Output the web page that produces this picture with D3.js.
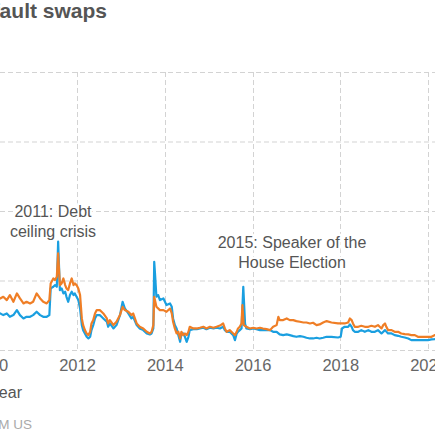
<!DOCTYPE html>
<html>
<head>
<meta charset="utf-8">
<script src="https://cdn.jsdelivr.net/npm/d3@7"></script>
<style>
  body { margin: 0; background: #fff; }
  svg { display: block; font-family: "Liberation Sans", Arial, Helvetica, sans-serif; }
</style>
</head>
<body>
<div id="chart"></div>
<script>
// Values (basis points)
const fiveYearDates = [2010.18, 2010.25, 2010.32, 2010.40, 2010.47, 2010.55, 2010.63, 2010.70, 2010.78, 2010.85, 2010.93,
  2011.00, 2011.08, 2011.16, 2011.23, 2011.31, 2011.37, 2011.40, 2011.46, 2011.50, 2011.54, 2011.57, 2011.61, 2011.65,
  2011.69, 2011.73, 2011.76, 2011.80, 2011.84, 2011.88, 2011.92, 2011.95, 2011.99, 2012.03, 2012.07, 2012.11, 2012.14,
  2012.18, 2012.22, 2012.26, 2012.30, 2012.33, 2012.37, 2012.41, 2012.45, 2012.52, 2012.56, 2012.60, 2012.68, 2012.71,
  2012.75, 2012.83, 2012.90, 2012.98, 2013.04, 2013.09, 2013.17, 2013.24, 2013.28, 2013.36, 2013.43, 2013.51, 2013.59,
  2013.66, 2013.70, 2013.74, 2013.76, 2013.81, 2013.89, 2013.97, 2014.04, 2014.12, 2014.16, 2014.19, 2014.23, 2014.27,
  2014.31, 2014.35, 2014.38, 2014.42, 2014.46, 2014.50, 2014.54, 2014.57, 2014.65, 2014.73, 2014.80, 2014.88, 2014.95,
  2015.03, 2015.11, 2015.18, 2015.26, 2015.33, 2015.37, 2015.41, 2015.48, 2015.56, 2015.60, 2015.64, 2015.67, 2015.71,
  2015.75, 2015.77, 2015.80, 2015.86, 2015.94, 2016.02, 2016.09, 2016.17, 2016.24, 2016.32, 2016.40, 2016.47, 2016.55,
  2016.59, 2016.62, 2016.70, 2016.78, 2016.85, 2016.93, 2017.00, 2017.08, 2017.16, 2017.23, 2017.31, 2017.38, 2017.46,
  2017.53, 2017.61, 2017.69, 2017.80, 2017.95, 2018.10, 2018.18, 2018.22, 2018.26, 2018.29, 2018.33, 2018.41, 2018.48,
  2018.56, 2018.64, 2018.71, 2018.79, 2018.86, 2018.90, 2018.94, 2018.98, 2019.02, 2019.05, 2019.09, 2019.17, 2019.24,
  2019.32, 2019.39, 2019.47, 2019.55, 2019.62, 2019.70, 2019.77, 2019.85, 2019.93, 2020.00, 2020.08, 2020.15, 2020.20];
const fiveYearValues = [36.5, 37.1, 38.3, 35.9, 39.5, 34.7, 40.7, 37.1, 33.5, 34.7, 33.5,
  34.7, 40.7, 37.1, 34.7, 33.5, 35.9, 47.9, 51.5, 50.3, 52.7, 69.5, 46.7, 47.9,
  51.5, 46.7, 44.3, 43.1, 47.9, 51.5, 46.7, 47.9, 46.7, 44.3, 39.5, 22.7, 17.9,
  14.3, 11.9, 10.7, 13.1, 19.1, 21.5, 26.3, 28.7, 28.7, 27.5, 26.3, 22.7, 19.1,
  21.5, 17.9, 20.3, 25.1, 31.1, 28.7, 27.5, 25.1, 26.3, 19.1, 16.7, 15.5, 13.1,
  11.9, 13.1, 17.9, 38.3, 31.1, 28.7, 28.7, 27.5, 29.9, 26.3, 20.3, 15.5, 11.9,
  13.1, 8.3, 13.1, 10.7, 11.9, 10.7, 13.1, 16.7, 15.5, 15.5, 16.0, 16.7, 15.5,
  16.7, 16.0, 16.7, 17.6, 19.1, 15.5, 13.1, 14.3, 11.9, 10.7, 13.1, 15.5, 16.7,
  19.1, 32.3, 17.9, 16.7, 15.5, 16.0, 15.5, 16.0, 15.5, 15.0, 14.3, 16.7, 17.9,
  23.9, 21.5, 21.5, 22.7, 21.5, 21.5, 20.8, 20.3, 19.8, 19.8, 19.1, 19.6, 17.9,
  18.4, 19.8, 20.8, 19.8, 19.1, 19.1, 19.8, 22.7, 21.5, 19.1, 16.7, 16.7, 17.4,
  16.7, 16.7, 17.4, 16.7, 17.9, 16.7, 15.5, 17.9, 19.1, 16.7, 14.3, 14.3, 13.1,
  13.1, 11.9, 11.4, 11.2, 10.7, 10.7, 9.5, 9.5, 9.5, 9.5, 9.5, 10.7, 10.9];

const oneYearDates = [2010.18, 2010.25, 2010.32, 2010.40, 2010.47, 2010.55, 2010.63, 2010.70, 2010.78, 2010.85, 2010.93,
  2011.00, 2011.08, 2011.16, 2011.23, 2011.31, 2011.37, 2011.40, 2011.46, 2011.50, 2011.54, 2011.57, 2011.61, 2011.65,
  2011.69, 2011.73, 2011.76, 2011.80, 2011.84, 2011.88, 2011.92, 2011.95, 2011.99, 2012.03, 2012.07, 2012.11, 2012.14,
  2012.18, 2012.22, 2012.26, 2012.30, 2012.33, 2012.37, 2012.41, 2012.45, 2012.52, 2012.56, 2012.60, 2012.68, 2012.71,
  2012.75, 2012.83, 2012.90, 2012.98, 2013.04, 2013.09, 2013.17, 2013.24, 2013.28, 2013.36, 2013.43, 2013.51, 2013.59,
  2013.66, 2013.70, 2013.74, 2013.76, 2013.78, 2013.81, 2013.85, 2013.89, 2013.97, 2014.04, 2014.12, 2014.16, 2014.19,
  2014.23, 2014.27, 2014.31, 2014.35, 2014.38, 2014.42, 2014.46, 2014.50, 2014.54, 2014.57, 2014.65, 2014.73, 2014.80,
  2014.88, 2014.95, 2015.03, 2015.11, 2015.18, 2015.26, 2015.33, 2015.37, 2015.41, 2015.48, 2015.56, 2015.60, 2015.64,
  2015.67, 2015.71, 2015.75, 2015.79, 2015.83, 2015.86, 2015.94, 2016.02, 2016.09, 2016.17, 2016.24, 2016.32, 2016.40,
  2016.47, 2016.55, 2016.62, 2016.70, 2016.78, 2016.85, 2016.93, 2017.00, 2017.08, 2017.16, 2017.23, 2017.31, 2017.38,
  2017.46, 2017.53, 2017.61, 2017.69, 2017.80, 2017.95, 2018.01, 2018.04, 2018.10, 2018.18, 2018.22, 2018.26, 2018.29,
  2018.33, 2018.41, 2018.48, 2018.56, 2018.64, 2018.71, 2018.79, 2018.86, 2018.94, 2019.02, 2019.09, 2019.17, 2019.24,
  2019.32, 2019.39, 2019.47, 2019.55, 2019.62, 2019.70, 2019.77, 2019.85, 2019.93, 2020.00, 2020.08, 2020.15, 2020.20];
const oneYearValues = [26.0, 26.3, 25.1, 26.3, 23.9, 25.1, 28.7, 25.1, 22.7, 23.9, 23.9,
  25.1, 27.5, 25.1, 23.9, 23.9, 25.1, 44.3, 45.5, 46.7, 45.5, 77.9, 43.1, 44.3,
  40.7, 41.9, 38.3, 34.7, 39.5, 41.9, 39.5, 40.7, 38.3, 35.9, 29.9, 17.9, 14.3,
  11.9, 9.5, 8.3, 9.5, 14.3, 17.9, 22.7, 25.1, 25.1, 23.9, 22.7, 20.3, 16.7,
  19.1, 15.5, 17.9, 25.1, 34.7, 29.9, 26.3, 22.7, 23.9, 17.9, 15.5, 14.3, 11.9,
  11.2, 11.9, 15.5, 63.5, 53.9, 38.3, 39.5, 35.9, 37.1, 32.3, 33.5, 31.1, 22.7,
  17.9, 15.5, 10.7, 5.9, 11.9, 11.9, 9.5, 5.9, 9.5, 14.3, 15.0, 15.0, 15.5,
  16.0, 15.0, 16.0, 15.5, 16.0, 15.5, 16.7, 14.3, 13.1, 13.1, 10.7, 7.1, 11.9,
  13.1, 14.3, 15.5, 45.5, 19.1, 15.5, 15.0, 15.5, 15.0, 14.3, 14.3, 14.3, 14.3,
  13.1, 13.1, 11.2, 10.7, 11.2, 10.7, 10.0, 9.5, 10.0, 9.5, 8.8, 8.3, 8.3,
  8.8, 8.3, 8.8, 9.5, 9.5, 9.0, 9.5, 15.5, 16.7, 16.7, 18.4, 16.7, 14.3,
  13.1, 13.1, 14.3, 13.1, 14.3, 13.1, 13.1, 14.3, 11.9, 14.3, 11.9, 11.9, 10.7,
  10.2, 9.5, 9.0, 8.3, 7.1, 7.1, 7.1, 7.1, 7.1, 7.1, 7.6, 7.8, 8.0];

const yearTicks = [2010, 2012, 2014, 2016, 2018, 2020];
const valueTicks = [0, 50, 100, 150, 200];

const width = 435, height = 435;

const svg = d3.select("#chart").append("svg")
    .attr("width", width)
    .attr("height", height);

// Chart is cropped on the left: 2010 sits just outside the frame
const x = d3.scaleLinear().domain([2010, 2020]).range([-10.75, 428]);
const y = d3.scaleLinear().domain([0, 200]).range([350, 72]);

// Title (only its tail shows)
svg.append("text")
    .attr("x", 107)
    .attr("y", 18)
    .attr("text-anchor", "end")
    .attr("font-size", 21)
    .attr("font-weight", "bold")
    .attr("fill", "#555")
    .text("US credit default swaps");

// Grid lines
svg.append("g")
  .selectAll("line")
  .data(valueTicks)
  .enter().append("line")
    .attr("x1", 0)
    .attr("x2", width)
    .attr("y1", d => y(d) + 0.5)
    .attr("y2", d => y(d) + 0.5)
    .attr("stroke", "#d3d3d3")
    .attr("stroke-dasharray", "5,3");

svg.append("g")
  .selectAll("line")
  .data(yearTicks)
  .enter().append("line")
    .attr("x1", d => Math.round(x(d)) + 0.5)
    .attr("x2", d => Math.round(x(d)) + 0.5)
    .attr("y1", y(200))
    .attr("y2", y(0))
    .attr("stroke", "#d3d3d3")
    .attr("stroke-dasharray", "5,3");

// X axis labels
const xAxis = d3.axisBottom(x)
    .tickValues(yearTicks)
    .tickFormat(d3.format("d"))
    .tickSize(0)
    .tickPadding(9);

const axisG = svg.append("g")
    .attr("transform", "translate(0," + y(0) + ")")
    .call(xAxis);
axisG.select(".domain").remove();
axisG.selectAll("text")
    .attr("font-family", "\"Liberation Sans\", Arial, sans-serif")
    .attr("font-size", 16.5)
    .attr("fill", "#666");

// Lines
const line = d3.line()
    .x(d => x(d[0]))
    .y(d => y(d[1]));

const oneYear = oneYearDates.map((d, i) => [d, oneYearValues[i]]);
const fiveYear = fiveYearDates.map((d, i) => [d, fiveYearValues[i]]);

svg.append("path")
    .datum(oneYear)
    .attr("fill", "none")
    .attr("stroke", "#1a9fe0")
    .attr("stroke-width", 2.2)
    .attr("stroke-linejoin", "round")
    .attr("d", line);

svg.append("path")
    .datum(fiveYear)
    .attr("fill", "none")
    .attr("stroke", "#ef7e26")
    .attr("stroke-width", 2.2)
    .attr("stroke-linejoin", "round")
    .attr("d", line);

// Annotations, with a white halo over the grid
const notes = [
  { lines: ["2011: Debt", "ceiling crisis"], cx: 53, top: 217 },
  { lines: ["2015: Speaker of the", "House Election"], cx: 292, top: 248 }
];

notes.forEach(n => {
  const t = svg.append("text")
      .attr("text-anchor", "middle")
      .attr("font-size", 16)
      .attr("fill", "#555")
      .attr("stroke", "#fff")
      .attr("stroke-width", 5)
      .attr("stroke-linejoin", "round")
      .style("paint-order", "stroke");
  n.lines.forEach((s, i) => {
    t.append("tspan")
        .attr("x", n.cx)
        .attr("y", n.top + i * 20)
        .text(s);
  });
});

// Legend and source (cut off on the left)
svg.append("text")
    .attr("x", 22)
    .attr("y", 398)
    .attr("text-anchor", "end")
    .attr("font-size", 16)
    .attr("fill", "#555")
    .text("5-year");

svg.append("text")
    .attr("x", 32)
    .attr("y", 429)
    .attr("text-anchor", "end")
    .attr("font-size", 13.5)
    .attr("fill", "#aaa")
    .text("M US");
</script>
</body>
</html>
